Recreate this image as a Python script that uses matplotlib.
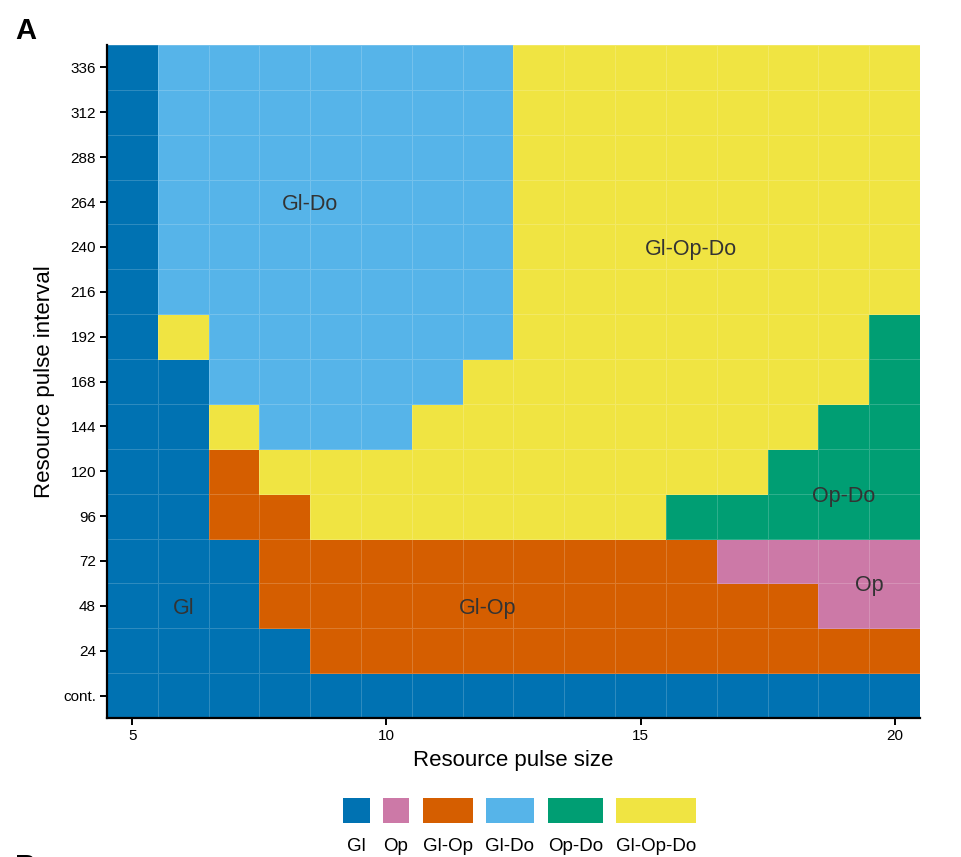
import matplotlib
matplotlib.use("Agg")
import matplotlib.pyplot as plt
from matplotlib.colors import ListedColormap
from matplotlib.patches import Rectangle
import numpy as np

plt.rcParams['font.family'] = ['Liberation Sans', 'DejaVu Sans']

# ---- data ----
categories = ["Gl", "Op", "Gl-Op", "Gl-Do", "Op-Do", "Gl-Op-Do"]
colors = ["#0072B2", "#CC79A7", "#D55E00", "#56B4E9", "#009E73", "#F0E442"]
pulse_sizes = list(range(5, 21))
interval_labels = ["cont.", "24", "48", "72", "96", "120", "144", "168",
                   "192", "216", "240", "264", "288", "312", "336"]
# category index per cell; rows from "cont." (bottom) to 336 (top), columns size 5..20
grid = [
    [0, 0, 0, 0, 0, 0, 0, 0, 0, 0, 0, 0, 0, 0, 0, 0],  # cont.
    [0, 0, 0, 0, 2, 2, 2, 2, 2, 2, 2, 2, 2, 2, 2, 2],  # 24
    [0, 0, 0, 2, 2, 2, 2, 2, 2, 2, 2, 2, 2, 2, 1, 1],  # 48
    [0, 0, 0, 2, 2, 2, 2, 2, 2, 2, 2, 2, 1, 1, 1, 1],  # 72
    [0, 0, 2, 2, 5, 5, 5, 5, 5, 5, 5, 4, 4, 4, 4, 4],  # 96
    [0, 0, 2, 5, 5, 5, 5, 5, 5, 5, 5, 5, 5, 4, 4, 4],  # 120
    [0, 0, 5, 3, 3, 3, 5, 5, 5, 5, 5, 5, 5, 5, 4, 4],  # 144
    [0, 0, 3, 3, 3, 3, 3, 5, 5, 5, 5, 5, 5, 5, 5, 4],  # 168
    [0, 5, 3, 3, 3, 3, 3, 3, 5, 5, 5, 5, 5, 5, 5, 4],  # 192
    [0, 3, 3, 3, 3, 3, 3, 3, 5, 5, 5, 5, 5, 5, 5, 5],  # 216
    [0, 3, 3, 3, 3, 3, 3, 3, 5, 5, 5, 5, 5, 5, 5, 5],  # 240
    [0, 3, 3, 3, 3, 3, 3, 3, 5, 5, 5, 5, 5, 5, 5, 5],  # 264
    [0, 3, 3, 3, 3, 3, 3, 3, 5, 5, 5, 5, 5, 5, 5, 5],  # 288
    [0, 3, 3, 3, 3, 3, 3, 3, 5, 5, 5, 5, 5, 5, 5, 5],  # 312
    [0, 3, 3, 3, 3, 3, 3, 3, 5, 5, 5, 5, 5, 5, 5, 5],  # 336
]
# region labels: text, x (pulse size), y (row index)
region_text = ["Gl-Do", "Gl-Op-Do", "Gl", "Gl-Op", "Op-Do", "Op"]
region_x = [8.5, 16.0, 6.0, 12.0, 19.0, 19.5]
region_y = [11.0, 10.0, 2.0, 2.0, 4.5, 2.5]

# ---- figure ----
W, H = 962, 857
fig = plt.figure(figsize=(W / 100, H / 100), dpi=100)
ax = fig.add_axes([107 / W, 1 - 718 / H, (920 - 107) / W, (718 - 45) / H])

Z = np.array(grid)
xe = np.arange(len(pulse_sizes) + 1) + pulse_sizes[0] - 0.5
ye = np.arange(len(interval_labels) + 1) - 0.5
cmap = ListedColormap(colors)
ax.pcolormesh(xe, ye, Z, cmap=cmap, vmin=-0.5, vmax=len(colors) - 0.5,
              edgecolors=(1, 1, 1, 0.18), linewidth=0.6)

for t, x, y in zip(region_text, region_x, region_y):
    ax.text(x, y, t, ha="center", va="center_baseline", fontsize=15.5,
            color="#333333")

ax.set_xlim(xe[0], xe[-1])
ax.set_ylim(ye[0], ye[-1])
ax.set_xticks([5, 10, 15, 20])
ax.set_xticklabels(["5", "10", "15", "20"])
ax.set_yticks(range(len(interval_labels)))
ax.set_yticklabels(interval_labels)
ax.tick_params(axis="both", labelsize=11, length=5, width=1.4, color="black",
               labelcolor="black", pad=3)
for s in ["top", "right"]:
    ax.spines[s].set_visible(False)
for s in ["left", "bottom"]:
    ax.spines[s].set_linewidth(1.6)
    ax.spines[s].set_color("black")

ax.set_xlabel("Resource pulse size", fontsize=16, labelpad=5)
ax.set_ylabel("Resource pulse interval", fontsize=16, labelpad=6)

fig.text(15 / W, 1 - 31 / H, "A", fontsize=21, fontweight="bold", va="center", ha="left")
fig.text(15 / W, 1 - 853 / H, "B", fontsize=21, fontweight="bold", va="top", ha="left")

# ---- legend (keys sized to label widths) ----
key_left = [343, 383, 423, 486, 548, 616]
key_right = [370, 409, 473, 534, 603, 696]
for c, lab, l, r in zip(colors, categories, key_left, key_right):
    fig.patches.append(Rectangle((l / W, 1 - 823 / H), (r - l) / W, 25 / H,
                                 transform=fig.transFigure, facecolor=c,
                                 edgecolor="none"))
    fig.text((l + r) / 2 / W, 1 - 851 / H, lab, fontsize=13.5, ha="center",
             va="baseline", color="black")

fig.savefig("out.png", dpi=100)
